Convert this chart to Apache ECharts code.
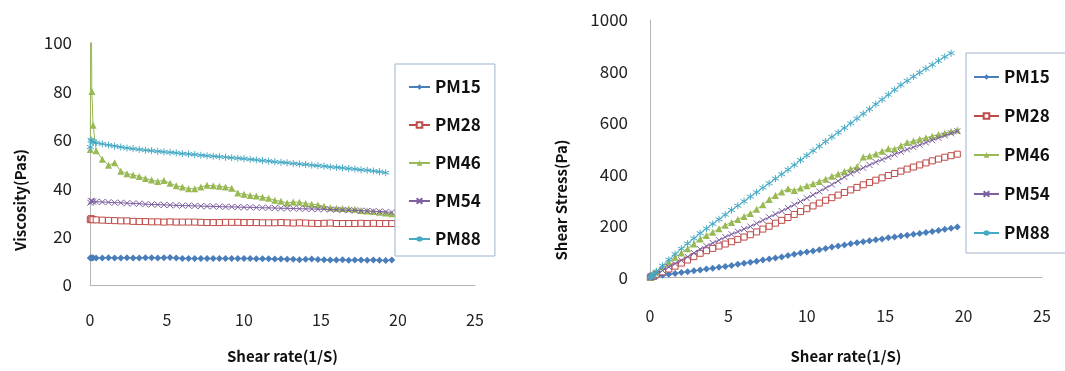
<!DOCTYPE html>
<html>
<head>
<meta charset="utf-8">
<script src="https://cdn.jsdelivr.net/npm/echarts@6/dist/echarts.min.js"></script>
<style>
html,body{margin:0;padding:0;background:#fff;}
#chart{width:1065px;height:371px;}
</style>
</head>
<body>
<div id="chart"></div>
<script>
// ---- data ----
const seriesNames = ['PM15', 'PM28', 'PM46', 'PM54', 'PM88'];
const xTicks = [0, 5, 10, 15, 20, 25];
const viscosityTicks = [0, 20, 40, 60, 80, 100];
const stressTicks = [0, 200, 400, 600, 800, 1000];

const shearRate = [0.02, 0.07, 0.12, 0.2, 0.4, 0.8, 1.2, 1.6, 2.0, 2.4, 2.8, 3.2, 3.6, 4.0, 4.4, 4.8, 5.2, 5.6, 6.0, 6.4, 6.8, 7.2, 7.6, 8.0, 8.4, 8.8, 9.2, 9.6, 10.0, 10.4, 10.8, 11.2, 11.6, 12.0, 12.4, 12.8, 13.2, 13.6, 14.0, 14.4, 14.8, 15.2, 15.6, 16.0, 16.4, 16.8, 17.2, 17.6, 18.0, 18.4, 18.8, 19.2, 19.6];

// Viscosity (Pas)
const viscPM15 = [11.2, 11.3, 11.2, 11.3, 11.2, 11.2, 11.3, 11.2, 11.2, 11.3, 11.2, 11.2, 11.3, 11.3, 11.2, 11.3, 11.4, 11.2, 11.0, 11.0, 10.9, 11.0, 10.9, 10.9, 11.0, 10.9, 10.9, 11.0, 11.0, 10.9, 10.8, 10.8, 10.8, 10.7, 10.7, 10.6, 10.6, 10.4, 10.6, 10.7, 10.5, 10.4, 10.3, 10.3, 10.4, 10.2, 10.3, 10.3, 10.2, 10.3, 10.2, 10.1, 10.3];
const viscPM28 = [27.0, 27.4, 27.2, 27.0, 26.9, 26.8, 26.7, 26.6, 26.5, 26.5, 26.3, 26.2, 26.2, 26.1, 26.1, 26.0, 26.1, 26.0, 26.0, 26.0, 26.0, 25.9, 25.8, 25.8, 25.8, 25.9, 25.9, 25.9, 25.8, 25.8, 25.8, 25.7, 25.7, 25.7, 25.8, 25.7, 25.6, 25.7, 25.6, 25.5, 25.4, 25.5, 25.6, 25.4, 25.4, 25.4, 25.4, 25.5, 25.4, 25.5, 25.4, 25.4, 25.4];
const viscPM46 = [56, 130, 80, 66, 55.5, 52, 49.5, 50.5, 47, 46, 45.5, 44.8, 44, 43.4, 42.8, 43.2, 42, 41, 40.5, 39.8, 39.8, 40.5, 41.2, 41, 40.8, 40.5, 40, 38, 37.5, 37, 36.8, 36.3, 35.8, 35.0, 34.6, 33.9, 34.3, 34.2, 33.7, 33.4, 33.1, 32.5, 31.9, 31.7, 31.6, 31.5, 31.3, 30.8, 30.6, 30.4, 30.1, 29.8, 29.4];
const viscPM54 = [34.0, 34.8, 34.6, 34.5, 34.4, 34.3, 34.2, 34.0, 34.0, 33.8, 33.7, 33.6, 33.4, 33.3, 33.2, 33.1, 33.0, 32.9, 32.8, 32.8, 32.7, 32.6, 32.5, 32.5, 32.4, 32.3, 32.3, 32.2, 32.1, 32.1, 32.0, 31.9, 31.9, 31.8, 31.7, 31.7, 31.6, 31.5, 31.5, 31.4, 31.3, 31.3, 31.2, 31.1, 31.0, 30.9, 30.8, 30.7, 30.6, 30.5, 30.4, 30.2, 30.0];
const viscPM88 = [57.0, 60.0, 59.5, 59.0, 58.8, 58.3, 57.8, 57.4, 57.0, 56.6, 56.3, 56.0, 55.7, 55.5, 55.2, 55.0, 54.8, 54.6, 54.3, 54.1, 53.9, 53.6, 53.4, 53.2, 53.0, 52.8, 52.6, 52.4, 52.2, 51.9, 51.7, 51.4, 51.2, 50.9, 50.7, 50.5, 50.2, 50.0, 49.8, 49.5, 49.3, 49.1, 48.8, 48.6, 48.4, 48.1, 47.9, 47.6, 47.4, 47.1, 46.8, 46.4];

// Shear stress (Pa)
const stressPM15 = [0.2, 0.8, 1.3, 2.2, 4.3, 8.4, 12.4, 16, 19.5, 22.8, 26, 29, 33, 36, 40, 43, 47, 51, 55, 59, 63, 68, 72, 76, 80, 85, 90, 95, 99, 103, 108, 113, 118, 122, 126, 131, 135, 139, 143, 147, 150, 154, 157, 161, 164, 168, 171, 175, 179, 183, 187, 191, 196];
const stressPM28 = [0.5, 1.9, 3.3, 5.4, 11, 22, 33, 44, 56, 68, 81, 94, 104, 113, 122, 130, 139, 148, 157, 166, 177, 188, 199, 211, 222, 233, 245, 256, 267, 278, 289, 300, 310, 320, 330, 340, 350, 360, 369, 378, 387, 396, 404, 413, 421, 429, 437, 445, 453, 460, 467, 473, 479];
const stressPM46 = [1.1, 9.1, 9.6, 13.2, 22, 42, 60, 79, 95, 112, 130, 150, 163, 176, 189, 203, 214, 225, 237, 249, 265, 283, 303, 318, 332, 345, 338, 348, 356, 364, 373, 382, 393, 402, 412, 421, 430, 468, 472, 480, 490, 500, 499, 512, 524, 530, 537, 543, 549, 555, 561, 567, 573];
const stressPM54 = [0.7, 2.4, 4.1, 6.9, 13.8, 27, 41, 54, 67, 80, 95, 110, 122, 134, 145, 157, 168, 178, 188, 198, 210, 222, 234, 246, 258, 270, 283, 295, 308, 321, 334, 347, 361, 375, 390, 404, 415, 426, 437, 448, 458, 468, 478, 488, 497, 506, 515, 524, 533, 542, 551, 560, 568];
const stressPM88 = [1.1, 4.2, 7.1, 11.8, 23.5, 46, 69, 91, 112, 132, 152, 172, 190, 208, 226, 244, 262, 279, 296, 314, 331, 349, 366, 384, 401, 419, 437, 456, 474, 492, 510, 528, 546, 563, 581, 599, 617, 636, 654, 673, 691, 710, 729, 748, 764, 780, 796, 811, 826, 842, 857, 871];

// ---- chart ----
const colors = ['#4A7EBB', '#BE4B48', '#98B954', '#7D60A0', '#46AAC5'];
const symbols = ['diamond', 'rect', 'triangle', 'path://M0,0L10,10M10,0L0,10', 'path://M5,0L5,10M0,2.5L10,7.5M10,2.5L0,7.5'];
const symbolSizes = [7, 6, 7, 6, 7];
const viscSets = [viscPM15, viscPM28, viscPM46, viscPM54, viscPM88];
const stressSets = [stressPM15, stressPM28, stressPM46, stressPM54, stressPM88];

function pairs(values) {
  return values.map((v, i) => [shearRate[i], v]);
}
function makeSeries(sets, gridIdx) {
  return sets.map((vals, k) => {
    const isHollow = k === 1;
    const isStroke = k >= 3;
    return {
      name: seriesNames[k],
      type: 'line',
      xAxisIndex: gridIdx,
      yAxisIndex: gridIdx,
      data: pairs(vals),
      symbol: symbols[k],
      symbolSize: symbolSizes[k],
      showAllSymbol: true,
      clip: true,
      animation: false,
      lineStyle: { color: colors[k], width: 1 },
      itemStyle: {
        color: isHollow ? '#ffffff' : (isStroke ? 'rgba(0,0,0,0)' : colors[k]),
        borderColor: colors[k],
        borderWidth: (isHollow || isStroke) ? 1 : 0
      },
      emphasis: { disabled: true },
      z: 2 + k
    };
  });
}

const labelFont = '"Noto Sans CJK KR", "Noto Sans", sans-serif';
const axisLineColor = '#b4b4b4';

function xAxisCfg(gridIdx, gap, margin) {
  return {
    type: 'value', gridIndex: gridIdx, min: 0, max: 25, interval: 5,
    name: 'Shear rate(1/S)', nameLocation: 'middle', nameGap: gap,
    nameTextStyle: { fontFamily: labelFont, fontWeight: 'bold', fontSize: 15, color: '#111' },
    axisLine: { show: true, lineStyle: { color: axisLineColor, width: 1 } },
    axisTick: { show: false },
    splitLine: { show: false },
    axisLabel: { margin: margin, fontFamily: labelFont, fontSize: 16, color: '#222',
      formatter: v => xTicks.indexOf(v) >= 0 ? String(v) : '' }
  };
}
function yAxisCfg(gridIdx, max, interval, ticks, margin) {
  return {
    type: 'value', gridIndex: gridIdx, min: 0, max: max, interval: interval,
    axisLine: { show: true, lineStyle: { color: axisLineColor, width: 1 } },
    axisTick: { show: false },
    splitLine: { show: false },
    axisLabel: { margin: margin, fontFamily: labelFont, fontSize: 17, color: '#222',
      formatter: v => ticks.indexOf(v) >= 0 ? String(v) : '' }
  };
}

const legendText = { fontFamily: labelFont, fontWeight: 'bold', fontSize: 17, color: '#111', lineHeight: 20 };

const option = {
  backgroundColor: '#ffffff',
  animation: false,
  grid: [
    { left: 90, top: 43, width: 385, height: 242, containLabel: false },
    { left: 650, top: 20, width: 392, height: 257.5, containLabel: false }
  ],
  xAxis: [xAxisCfg(0, 64, 27), xAxisCfg(1, 71, 30)],
  yAxis: [yAxisCfg(0, 100, 20, viscosityTicks, 18), yAxisCfg(1, 1000, 200, stressTicks, 22)],
  legend: [
    {
      data: seriesNames, orient: 'vertical', left: 395, top: 64,
      padding: [13, 14, 7, 13], itemGap: 18, itemWidth: 21, itemHeight: 7,
      backgroundColor: '#ffffff', borderColor: '#9fb3cc', borderWidth: 1,
      textStyle: legendText, selectedMode: false
    },
    {
      data: seriesNames, orient: 'vertical', left: 966, top: 53,
      padding: [14, 30, 10, 7], itemGap: 19, itemWidth: 25, itemHeight: 7,
      backgroundColor: '#ffffff', borderColor: '#9fb3cc', borderWidth: 1,
      textStyle: legendText, selectedMode: false
    }
  ],
  graphic: [
    { type: 'text', x: 20, y: 200, rotation: Math.PI / 2,
      style: { text: 'Viscosity(Pas)', fontFamily: labelFont, fontWeight: 'bold', fontSize: 15, fill: '#111', align: 'center', verticalAlign: 'middle' } },
    { type: 'text', x: 561, y: 200, rotation: Math.PI / 2,
      style: { text: 'Shear Stress(Pa)', fontFamily: labelFont, fontWeight: 'bold', fontSize: 15, fill: '#111', align: 'center', verticalAlign: 'middle' } }
  ],
  series: makeSeries(viscSets, 0).concat(makeSeries(stressSets, 1))
};

const chart = echarts.init(document.getElementById('chart'), null, { renderer: 'canvas' });
chart.setOption(option);
</script>
</body>
</html>
